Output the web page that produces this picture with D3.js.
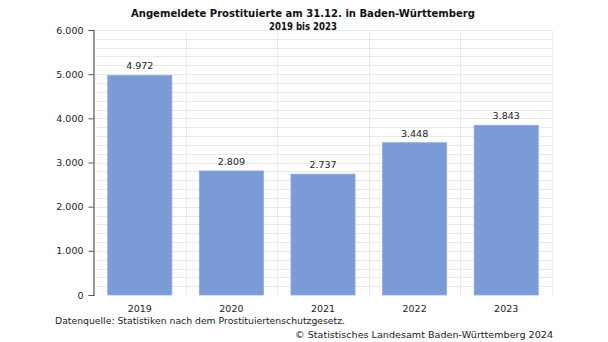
<!DOCTYPE html>
<html>
<head>
<meta charset="utf-8">
<script src="https://cdn.jsdelivr.net/npm/d3@7/dist/d3.min.js"></script>
<style>
  html, body { margin: 0; padding: 0; background: #fff; }
  svg { display: block; font-family: "DejaVu Sans", Verdana, sans-serif; }
</style>
</head>
<body>
<svg id="chart" width="608" height="342"></svg>
<script>
// Registered sex workers in Baden-Württemberg, as of 31 Dec each year
const years = ["2019", "2020", "2021", "2022", "2023"];
const registered = [4972, 2809, 2737, 3448, 3843];
const yTicks = [0, 1000, 2000, 3000, 4000, 5000, 6000];
const titleLines = ["Angemeldete Prostituierte am 31.12. in Baden-Württemberg", "2019 bis 2023"];
const sourceNote = "Datenquelle: Statistiken nach dem Prostituiertenschutzgesetz.";
const copyright = "© Statistisches Landesamt Baden-Württemberg 2024";

const svg = d3.select("#chart");
const fmt = d3.formatLocale({ decimal: ",", thousands: ".", grouping: [3], currency: ["", "€"] }).format(",d");

const plotLeft = 94, plotRight = 552, plotTop = 30, plotBottom = 295;

const x = d3.scaleBand().domain(years).range([plotLeft, plotRight]).paddingInner(0.3).paddingOuter(0.15);
const xEdges = d3.scaleBand().domain(years).range([plotLeft, plotRight]);
const y = d3.scaleLinear().domain([0, 6000]).range([plotBottom, plotTop]);

// minor horizontal grid every 200
const grid = svg.append("g");
grid.selectAll("line.h")
  .data(d3.range(200, 6001, 200))
  .join("line")
  .attr("x1", plotLeft).attr("x2", plotRight)
  .attr("y1", d => Math.round(y(d)) + 0.5).attr("y2", d => Math.round(y(d)) + 0.5)
  .attr("stroke", "#e9e9e9").attr("stroke-width", 1);
// vertical grid at category boundaries
grid.selectAll("line.v")
  .data(years.slice(1))
  .join("line")
  .attr("x1", d => Math.round(xEdges(d)) + 0.5).attr("x2", d => Math.round(xEdges(d)) + 0.5)
  .attr("y1", plotTop).attr("y2", plotBottom)
  .attr("stroke", "#e9e9e9").attr("stroke-width", 1);
grid.append("line")
  .attr("x1", plotRight + 0.5).attr("x2", plotRight + 0.5)
  .attr("y1", plotTop).attr("y2", plotBottom)
  .attr("stroke", "#efefef");

const rows = years.map((yr, i) => ({ yr, v: registered[i] }));

// bars
svg.append("g").selectAll("rect")
  .data(rows)
  .join("rect")
  .attr("x", d => x(d.yr))
  .attr("width", x.bandwidth())
  .attr("y", d => y(d.v))
  .attr("height", d => y(0) - y(d.v))
  .attr("fill", "#7b9bd6")
  .attr("stroke", "#8faae0")
  .attr("stroke-width", 0.8);

// value labels
svg.append("g").selectAll("text")
  .data(rows)
  .join("text")
  .attr("x", d => x(d.yr) + x.bandwidth() / 2)
  .attr("y", d => y(d.v) - 6)
  .attr("text-anchor", "middle")
  .attr("font-size", 9.5)
  .attr("fill", "#222")
  .text(d => fmt(d.v));

// y axis
const yAxis = svg.append("g")
  .attr("transform", `translate(${plotLeft - 0.5},0)`)
  .call(d3.axisLeft(y).tickValues(yTicks).tickFormat(fmt).tickSize(5).tickPadding(5));
yAxis.select(".domain").attr("stroke", "#555").attr("stroke-width", 1.2);
yAxis.selectAll(".tick line").attr("stroke", "#555");
yAxis.selectAll(".tick text")
  .attr("font-size", 9.5).attr("fill", "#222")
  .attr("font-family", "DejaVu Sans, Verdana, sans-serif");

// x axis labels
const xAxis = svg.append("g")
  .attr("transform", `translate(0,${plotBottom})`)
  .call(d3.axisBottom(xEdges).tickSize(0).tickPadding(10));
xAxis.select(".domain").remove();
xAxis.selectAll(".tick text")
  .attr("font-size", 9.5).attr("fill", "#222")
  .attr("font-family", "DejaVu Sans, Verdana, sans-serif");

// title
const titleWidths = [344, 68];
svg.append("g").selectAll("text")
  .data(titleLines)
  .join("text")
  .attr("x", 303).attr("y", (d, i) => 17 + i * 12.5)
  .attr("text-anchor", "middle")
  .attr("font-family", "'DejaVu Sans Condensed', 'DejaVu Sans', sans-serif")
  .attr("font-size", 11).attr("font-weight", "bold")
  .attr("fill", "#111")
  .attr("textLength", (d, i) => titleWidths[i])
  .attr("lengthAdjust", "spacingAndGlyphs")
  .text(d => d);

// source and copyright
svg.append("text")
  .attr("x", 55).attr("y", 324)
  .attr("font-size", 9.5).attr("fill", "#222")
  .attr("textLength", 290).attr("lengthAdjust", "spacingAndGlyphs")
  .text(sourceNote);
svg.append("text")
  .attr("x", 553).attr("y", 338)
  .attr("text-anchor", "end")
  .attr("font-size", 9.5).attr("fill", "#222")
  .attr("textLength", 258).attr("lengthAdjust", "spacingAndGlyphs")
  .text(copyright);
</script>
</body>
</html>
